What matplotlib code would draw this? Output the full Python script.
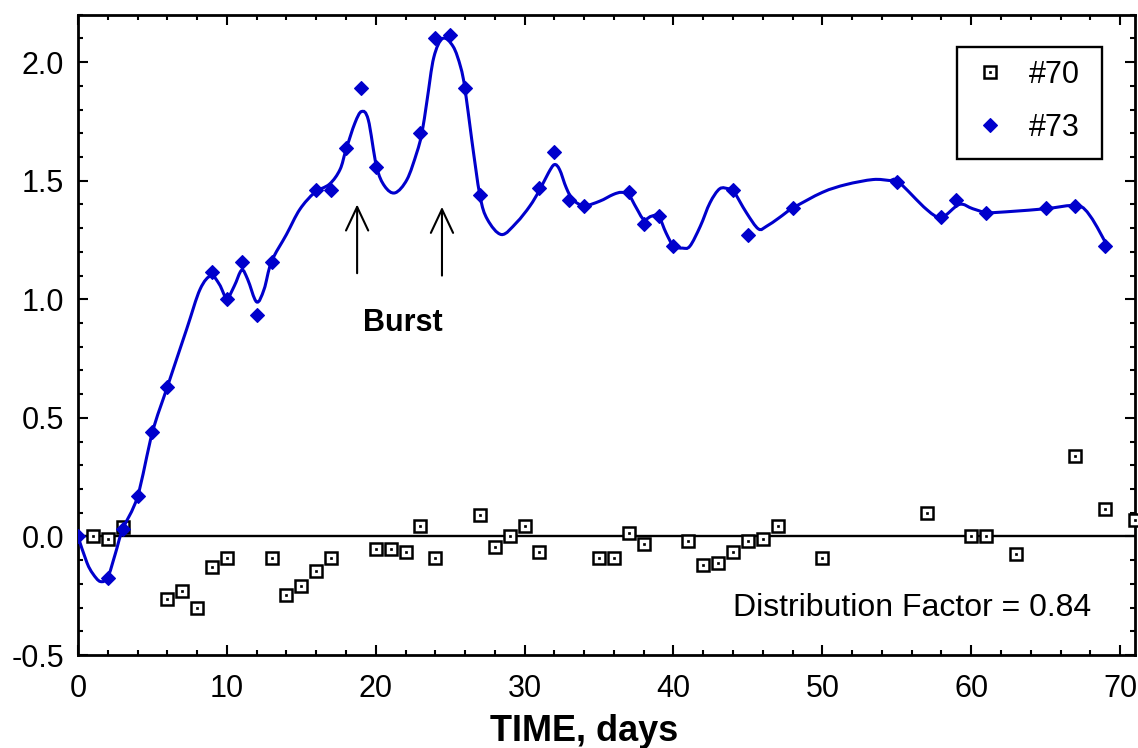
import matplotlib
matplotlib.use("Agg")
import matplotlib.pyplot as plt
import numpy as np
from matplotlib.path import Path
from matplotlib.patches import PathPatch, Rectangle
from matplotlib.lines import Line2D
from matplotlib.legend_handler import HandlerTuple
from matplotlib.ticker import MultipleLocator

plt.rcParams['font.family'] = ['Liberation Sans', 'DejaVu Sans']

# ---- data ----
s70_x = [1, 2, 3, 6, 7, 8, 9, 10, 13, 14, 15, 16, 17, 20, 21, 22, 23, 24,
         27, 28, 29, 30, 31, 35, 36, 37, 38, 41, 42, 43, 44, 45, 46, 47,
         50, 57, 60, 61, 63, 67, 69, 71]
s70_y = [0.00, -0.01, 0.04, -0.265, -0.23, -0.30, -0.13, -0.09, -0.09, -0.245,
         -0.21, -0.145, -0.09, -0.055, -0.055, -0.065, 0.045, -0.09,
         0.09, -0.045, 0.00, 0.045, -0.065, -0.09, -0.09, 0.015, -0.03,
         -0.02, -0.12, -0.11, -0.065, -0.02, -0.01, 0.045,
         -0.09, 0.10, 0.00, 0.00, -0.075, 0.34, 0.115, 0.07]

s73_x = [0, 2, 3, 4, 5, 6, 9, 10, 11, 12, 13, 16, 17, 18, 19, 20, 23, 24, 25,
         26, 27, 31, 32, 33, 34, 37, 38, 39, 40, 44, 45, 48, 55, 58, 59, 61,
         65, 67, 69]
s73_y = [0.00, -0.177, 0.03, 0.17, 0.44, 0.63, 1.115, 1.00, 1.158, 0.935, 1.158,
         1.46, 1.46, 1.64, 1.89, 1.56, 1.70, 2.10, 2.115, 1.89, 1.44, 1.47,
         1.62, 1.42, 1.395, 1.453, 1.316, 1.35, 1.225, 1.46, 1.27, 1.384,
         1.496, 1.348, 1.42, 1.362, 1.383, 1.395, 1.225]

# smoothed fit curve through #73
fit_x = [0, 0.6, 1.0, 1.5, 2.0, 2.5, 3.0, 4.0, 5.0, 6.0, 7.3, 8.2, 8.95, 9.5,
         10.0, 10.5, 11.0, 11.4, 12.0, 12.5, 13.0, 14.0, 14.9, 15.9, 16.9,
         17.6, 18.0, 18.6, 19.05, 19.5, 20.05, 20.6, 21.3, 22.1, 22.75, 23.1,
         23.45, 23.9, 24.5, 25.2, 25.7, 26.0, 26.45, 27.0, 27.5, 28.45, 29.45,
         30.35, 31.0, 31.6, 32.0, 32.35, 32.8, 33.25, 34.0, 35.05, 35.95, 36.5,
         37.0, 37.5, 38.0, 38.5, 39.0, 39.5, 40.0, 40.6, 41.1, 41.8, 42.45,
         43.1, 43.7, 44.0, 44.9, 45.7, 46.25, 47.1, 48.0, 50.0, 51.6, 53.4,
         54.5, 55.1, 57.0, 58.0, 59.2, 60.1, 61.1, 62.8, 65.0, 67.1, 68.0,
         69.15]
fit_y = [0.0, -0.11, -0.157, -0.19, -0.172, -0.075, 0.03, 0.168, 0.439, 0.63,
         0.874, 1.042, 1.10, 1.063, 1.005, 1.056, 1.123, 1.084, 0.989, 1.042,
         1.159, 1.273, 1.379, 1.45, 1.486, 1.547, 1.63, 1.743, 1.792, 1.757,
         1.561, 1.477, 1.449, 1.505, 1.617, 1.70, 1.84, 2.02, 2.10, 2.066,
         1.98, 1.886, 1.673, 1.437, 1.337, 1.273, 1.323, 1.393, 1.46, 1.533,
         1.568, 1.547, 1.47, 1.42, 1.395, 1.414, 1.442, 1.451, 1.44, 1.386,
         1.337, 1.35, 1.35, 1.28, 1.225, 1.216, 1.224, 1.308, 1.407, 1.466,
         1.466, 1.46, 1.365, 1.297, 1.308, 1.344, 1.384, 1.451, 1.484, 1.505,
         1.501, 1.496, 1.379, 1.346, 1.40, 1.382, 1.366, 1.371, 1.382, 1.395,
         1.35, 1.224]

burst_x = [18.75, 24.45]
burst_y0 = [1.11, 1.10]
burst_y1 = [1.40, 1.39]

BLUE = '#0000CC'
SQ_MS, DOT_MS, DIA_MS = 8.4, 1.8, 7.4

fig = plt.figure(figsize=(11.38, 7.48), dpi=100)
ax = fig.add_axes([0.0685, 0.1243, 0.9289, 0.856])
ax.set_xlim(0, 71)
ax.set_ylim(-0.5, 2.2)

# zero line
ax.axhline(0, color='black', lw=1.7, zorder=1)

# #70 series: square with dot
ax.plot(s70_x, s70_y, ls='none', marker='s', ms=SQ_MS, mfc='white', mec='black',
        mew=1.8, zorder=3, clip_on=False)
ax.plot(s70_x, s70_y, ls='none', marker='s', ms=DOT_MS, mfc='black', mec='black',
        mew=0.5, zorder=3, clip_on=False)

# fit curve drawn as Catmull-Rom bezier path
P = np.column_stack([fit_x, fit_y]).astype(float)
verts = [tuple(P[0])]
codes = [Path.MOVETO]
n = len(P)
for i in range(n - 1):
    p0 = P[i - 1] if i > 0 else P[i]
    p1 = P[i]
    p2 = P[i + 1]
    p3 = P[i + 2] if i + 2 < n else P[i + 1]
    c1 = p1 + (p2 - p0) / 6.0
    c2 = p2 - (p3 - p1) / 6.0
    verts += [tuple(c1), tuple(c2), tuple(p2)]
    codes += [Path.CURVE4] * 3
ax.add_patch(PathPatch(Path(verts, codes), fill=False, edgecolor=BLUE, lw=2.2,
                       zorder=4, transform=ax.transData))

# #73 series
ax.plot(s73_x, s73_y, ls='none', marker='D', ms=DIA_MS, mfc=BLUE, mec=BLUE,
        mew=0.8, zorder=5)

# arrows + Burst label
for bx, y0, y1 in zip(burst_x, burst_y0, burst_y1):
    ax.annotate('', xy=(bx, y1), xytext=(bx, y0),
                arrowprops=dict(arrowstyle='->,head_length=0.85,head_width=0.4',
                                color='black', lw=1.5, mutation_scale=20,
                                shrinkA=0, shrinkB=0))
ax.text(21.85, 0.90, 'Burst', fontsize=22, fontweight='bold', ha='center',
        va='center')

ax.text(56.05, -0.30, 'Distribution Factor = 0.84', fontsize=23,
        ha='center', va='center')

# axes styling
ax.xaxis.set_major_locator(MultipleLocator(10))
ax.xaxis.set_minor_locator(MultipleLocator(2))
ax.yaxis.set_major_locator(MultipleLocator(0.5))
ax.yaxis.set_minor_locator(MultipleLocator(0.1))
ax.tick_params(which='both', direction='in', top=True, right=True, width=1.5)
ax.tick_params(which='major', length=7.5)
ax.tick_params(which='minor', length=3.8)
ax.tick_params(axis='x', labelsize=22, pad=14)
ax.tick_params(axis='y', labelsize=22, pad=10)
ax.set_yticks([-0.5, 0.0, 0.5, 1.0, 1.5, 2.0])
ax.set_yticklabels(['-0.5', '0.0', '0.5', '1.0', '1.5', '2.0'])
for sp in ax.spines.values():
    sp.set_linewidth(2.0)

ax.set_xlabel('TIME, days', fontsize=26, fontweight='bold')
ax.xaxis.set_label_coords(0.479, -0.092)

# legend (frame drawn separately as a rectangle)
h70 = (Line2D([], [], ls='none', marker='s', ms=SQ_MS, mfc='white', mec='black', mew=1.8),
       Line2D([], [], ls='none', marker='s', ms=DOT_MS, mfc='black', mec='black', mew=0.5))
h73 = Line2D([], [], ls='none', marker='D', ms=DIA_MS, mfc=BLUE, mec=BLUE, mew=0.8)
leg = ax.legend([h70, h73], ['#70', '#73'], handler_map={tuple: HandlerTuple(ndivide=1)},
                loc='upper left', bbox_to_anchor=(0.8505, 0.9293), borderaxespad=0,
                fontsize=22, frameon=False,
                handlelength=0.85, handletextpad=0.85, labelspacing=0.75,
                borderpad=0)
ax.add_patch(Rectangle((0.8313, 0.7742), 0.9685 - 0.8313, 0.9500 - 0.7742,
                       transform=ax.transAxes, fill=True, facecolor='none',
                       edgecolor='black', lw=1.7, zorder=6))

fig.savefig('out.png', dpi=100)
